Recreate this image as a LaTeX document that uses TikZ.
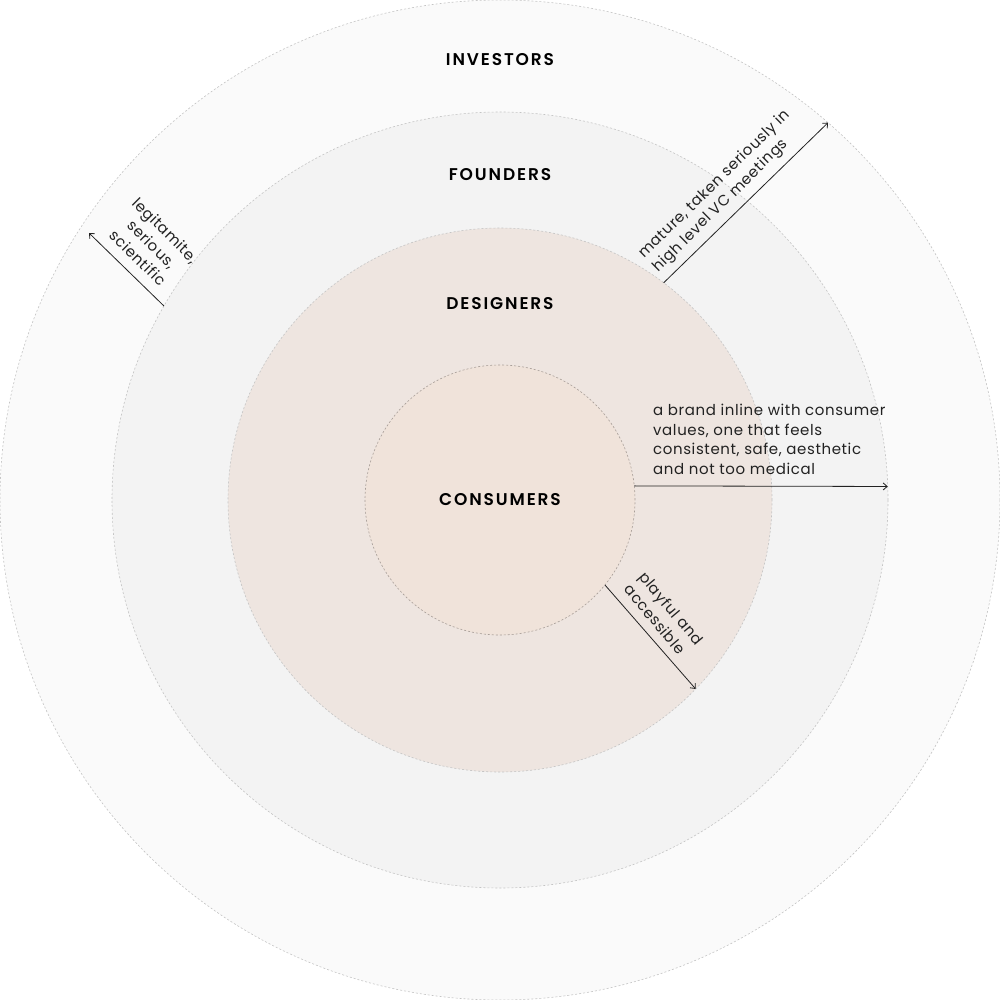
\documentclass[tikz,border=0pt]{standalone}
\usepackage{fontspec}
\setmainfont{Poppins}[LetterSpace=4]
\newfontfamily\titlefont{Poppins SemiBold}[LetterSpace=11]
\usetikzlibrary{arrows.meta}
\definecolor{cInv}{HTML}{FAFAFA}
\definecolor{cFou}{HTML}{F3F3F3}
\definecolor{cDes}{HTML}{EEE5E0}
\definecolor{cCon}{HTML}{F0E3DA}
\definecolor{cEdge}{HTML}{C4C4C4}
\definecolor{cEdgeIn}{HTML}{A89E98}
\definecolor{cInk}{HTML}{222222}
\begin{document}
\begin{tikzpicture}[x=1pt,y=-1pt,
  ring/.style={circle, draw=cEdge, line width=0.6pt, dash pattern=on 2pt off 2pt, inner sep=0pt, outer sep=0pt},
  ttl/.style={inner sep=0pt, font=\titlefont\fontsize{17}{20}\selectfont, text=black},
  note/.style={inner sep=0pt, font=\fontsize{15}{19.5}\selectfont, text=cInk},
  link/.style={draw=cInk, line width=0.8pt, -{Straight Barb[length=4pt,width=7pt]}}]
\useasboundingbox (0,0) rectangle (1000,1000);
\node[ring, fill=cInv, minimum size=1000pt] (inv) at (500,500) {};
\node[ring, fill=cFou, minimum size=776pt] (fou) at (500,500) {};
\node[ring, fill=cDes, minimum size=544pt] (des) at (500,500) {};
\node[ring, fill=cCon, draw=cEdgeIn, minimum size=270pt] (con) at (500,500) {};
\node[ttl] (tInv) at (500,59.5) {INVESTORS};
\node[ttl] (tFou) at (500,174.5) {FOUNDERS};
\node[ttl] (tDes) at (500,303.5) {DESIGNERS};
\node[ttl] (tCon) at (500,499.5) {CONSUMERS};
% arrows
\coordinate (legEnd) at (89,233);
\draw[link] (des.53.4) -- (inv.49.3);
\draw[link] (fou.150.5) -- (legEnd);
\draw[link] (con.6) -- (fou.2);
\draw[link] (con.-39) -- (des.-44.4);
% notes
\node[note, anchor=south west, rotate=44.5, align=left] (nMat) at (661,276) {mature, taken seriously in\\high level VC meetings};
\node[note, anchor=center, rotate=-45, align=center] (nLeg) at (152,244) {legitamite,\\serious,\\scientific};
\node[note, anchor=north west, align=left] (nCon) at (653,404) {a brand inline with consumer\\values, one that feels\\consistent, safe, aesthetic\\and not too medical};
\node[note, anchor=south west, rotate=-50, align=left] (nPla) at (623,590) {playful and\\accessible};
\end{tikzpicture}
\end{document}
